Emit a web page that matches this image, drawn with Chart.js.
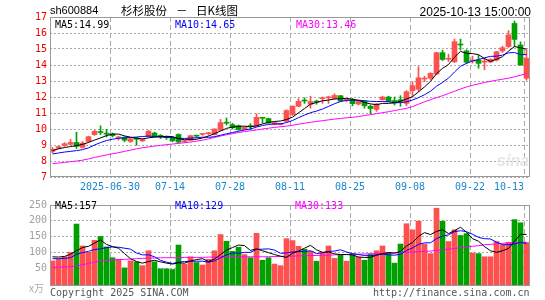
<!DOCTYPE html>
<html>
<head>
<meta charset="utf-8">
<script src="https://cdn.jsdelivr.net/npm/chart.js@4.4.0/dist/chart.umd.min.js"></script>
<style>
  body { margin: 0; background: #fff; width: 545px; height: 300px; position: relative; overflow: hidden;
         font-family: "DejaVu Sans Mono", monospace; font-size: 10px; }
  canvas { position: absolute; left: 0; }
  #kline { top: 0; }
  #vol { top: 196px; }
  .t { position: absolute; white-space: pre; line-height: 12px; }
</style>
</head>
<body>
<canvas id="kline" width="545" height="196"></canvas>
<canvas id="vol" width="545" height="104"></canvas>

<div class="t" style="left:50px;top:4px;font:11px 'Liberation Sans';color:#000">sh600884</div>
<div class="t" style="left:121px;top:2px;font:11.5px 'Noto Sans CJK SC';line-height:16px;color:#000">杉杉股份</div>
<div class="t" style="left:176px;top:2px;font:11.5px 'Noto Sans CJK SC';line-height:16px;color:#000">－</div>
<div class="t" style="left:196px;top:2px;font:11.5px 'Noto Sans CJK SC';line-height:16px;color:#000">日K线图</div>
<div class="t" style="right:14px;top:5px;font:12px 'Liberation Sans';color:#000">2025-10-13 15:00:00</div>

<div class="t" style="left:55px;top:19px;color:#000">MA5:14.99</div>
<div class="t" style="left:175px;top:19px;color:#00f">MA10:14.65</div>
<div class="t" style="left:296px;top:19px;color:#f0f">MA30:13.46</div>

<div class="t" style="left:55px;top:200px;color:#000">MA5:157</div>
<div class="t" style="left:175px;top:200px;color:#00f">MA10:129</div>
<div class="t" style="left:295px;top:200px;color:#f0f">MA30:133</div>

<div class="t" style="left:497px;top:152px;font:italic bold 16px 'Liberation Sans';color:#e6e6e6">sina</div>
<div class="t" style="left:29px;top:280px;font:10px 'Noto Sans CJK SC';color:#aaa">x万</div>
<div class="t" style="left:50px;top:287px;color:#555">Copyright 2025 SINA.COM</div>
<div class="t" style="left:373px;top:287px;color:#555">http://finance.sina.com.cn</div>

<script>
// trading days, 2025
const days = [
  '06-16','06-17','06-18','06-19','06-20','06-23','06-24','06-25','06-26','06-27',
  '06-30','07-01','07-02','07-03','07-04','07-07','07-08','07-09','07-10','07-11',
  '07-14','07-15','07-16','07-17','07-18','07-21','07-22','07-23','07-24','07-25',
  '07-28','07-29','07-30','07-31','08-01','08-04','08-05','08-06','08-07','08-08',
  '08-11','08-12','08-13','08-14','08-15','08-18','08-19','08-20','08-21','08-22',
  '08-25','08-26','08-27','08-28','08-29','09-01','09-02','09-03','09-04','09-05',
  '09-08','09-09','09-10','09-11','09-12','09-15','09-16','09-17','09-18','09-19',
  '09-22','09-23','09-24','09-25','09-26','09-29','09-30','10-09','10-10','10-13'
];
const tickDays = ['06-30','07-14','07-28','08-11','08-25','09-08','09-22','10-13'];
const tickLabels = ['2025-06-30','07-14','07-28','08-11','08-25','09-08','09-22','10-13'];
const priceTicks = [7, 8, 9, 10, 11, 12, 13, 14, 15, 16, 17];
const volTicks = [50, 100, 150, 200, 250];

const open = [
  8.6, 8.8, 8.98, 9.04, 9.16, 8.85, 9.22, 9.65, 9.82, 9.74,
  9.7, 9.44, 9.48, 9.22, 9.44, 9.26, 9.52, 9.75, 9.56, 9.5,
  9.44, 9.66, 9.2, 9.29, 9.57, 9.66, 9.71, 9.65, 9.92, 10.39,
  10.27, 10.21, 9.98, 10.18, 10.17, 10.69, 10.65, 10.28, 10.28, 10.48,
  10.9, 11.42, 11.8, 11.55, 11.72, 11.9, 11.95, 11.92, 12.08, 11.8,
  11.83, 11.56, 11.73, 11.42, 11.22, 11.83, 12.0, 11.78, 11.83, 11.6,
  12.4, 12.48, 13.12, 13.17, 13.44, 14.77, 14.36, 14.2, 15.3, 14.88,
  14.25, 14.31, 14.18, 14.19, 14.31, 14.88, 15.15, 16.6, 15.25, 13.17
];
const close = [
  8.74, 8.9, 9.08, 9.16, 8.92, 9.12, 9.52, 9.85, 9.78, 9.68,
  9.58, 9.5, 9.3, 9.38, 9.36, 9.34, 9.86, 9.52, 9.54, 9.46,
  9.26, 9.18, 9.24, 9.58, 9.55, 9.68, 9.74, 10.0, 10.4, 10.36,
  10.08, 9.96, 10.1, 10.15, 10.73, 10.67, 10.38, 10.4, 10.33, 11.15,
  11.42, 11.73, 11.75, 11.72, 11.68, 11.93, 11.98, 12.1, 11.75, 11.84,
  11.58, 11.72, 11.45, 11.28, 11.56, 12.0, 11.72, 11.62, 11.73, 12.33,
  12.71, 13.2, 13.16, 13.48, 14.77, 14.35, 14.4, 15.46, 15.25, 14.17,
  14.28, 14.1, 14.22, 14.35, 14.83, 15.08, 15.88, 15.6, 14.0, 14.42
];
const high = [
  8.85, 8.95, 9.15, 9.35, 9.8, 9.22, 9.55, 9.92, 10.2, 9.98,
  9.75, 9.55, 9.52, 9.42, 9.48, 9.38, 9.92, 9.8, 9.65, 9.56,
  9.5, 9.7, 9.3, 9.62, 9.62, 9.72, 9.8, 10.02, 10.6, 10.69,
  10.35, 10.25, 10.14, 10.33, 10.95, 10.72, 10.68, 10.45, 10.36, 11.2,
  11.45, 11.9, 11.95, 12.05, 11.8, 12.0, 12.05, 12.2, 12.1, 11.88,
  11.92, 11.8, 11.76, 11.5, 11.6, 12.05, 12.05, 12.0, 12.08, 12.4,
  12.95, 13.9, 13.3, 13.52, 14.8, 14.92, 14.68, 15.62, 15.62, 14.95,
  14.55, 14.6, 14.42, 14.4, 14.85, 15.18, 16.15, 16.75, 15.45, 14.95
];
const low = [
  8.5, 8.76, 8.9, 9.0, 8.78, 8.8, 9.18, 9.6, 9.65, 9.5,
  9.5, 9.3, 9.2, 9.15, 8.98, 9.2, 9.5, 9.5, 9.4, 9.35,
  9.2, 9.12, 9.15, 9.25, 9.48, 9.6, 9.62, 9.62, 9.9, 10.25,
  10.0, 9.92, 9.95, 9.98, 10.15, 10.38, 10.35, 10.25, 10.25, 10.45,
  10.85, 11.4, 11.6, 11.3, 11.55, 11.6, 11.6, 11.85, 11.7, 11.7,
  11.45, 11.5, 11.3, 10.95, 11.1, 11.8, 11.7, 11.5, 11.42, 11.45,
  12.0, 12.35, 12.95, 13.1, 13.4, 14.28, 14.22, 14.15, 14.94, 14.1,
  14.12, 13.8, 13.7, 14.15, 14.25, 14.78, 15.1, 15.15, 13.98, 13.05
];
const ma5 = [
  8.65, 8.76, 8.84, 8.9, 8.96, 9.04, 9.16, 9.31, 9.44, 9.59,
  9.68, 9.68, 9.57, 9.49, 9.42, 9.38, 9.45, 9.49, 9.52, 9.54,
  9.53, 9.39, 9.33, 9.34, 9.36, 9.44, 9.56, 9.71, 9.87, 10.04,
  10.12, 10.16, 10.18, 10.13, 10.2, 10.32, 10.41, 10.47, 10.5, 10.59,
  10.74, 11.01, 11.28, 11.55, 11.66, 11.76, 11.81, 11.88, 11.89, 11.92,
  11.85, 11.79, 11.66, 11.57, 11.52, 11.6, 11.6, 11.64, 11.73, 11.88,
  12.02, 12.32, 12.63, 12.98, 13.46, 13.79, 14.03, 14.49, 14.85, 14.73,
  14.71, 14.65, 14.4, 14.22, 14.36, 14.52, 14.87, 15.15, 15.08, 14.99
];
const ma10 = [
  8.44, 8.5, 8.56, 8.6, 8.65, 8.71, 8.82, 9.0, 9.15, 9.28,
  9.36, 9.42, 9.44, 9.47, 9.5, 9.53, 9.56, 9.53, 9.5, 9.48,
  9.46, 9.42, 9.41, 9.43, 9.45, 9.49, 9.48, 9.52, 9.61, 9.7,
  9.78, 9.86, 9.94, 10.0, 10.12, 10.22, 10.28, 10.32, 10.32, 10.4,
  10.53, 10.71, 10.87, 11.02, 11.12, 11.25, 11.41, 11.58, 11.72, 11.79,
  11.8, 11.8, 11.77, 11.73, 11.72, 11.72, 11.7, 11.65, 11.65, 11.7,
  11.81, 11.96, 12.14, 12.36, 12.67, 12.91, 13.18, 13.56, 13.92, 14.1,
  14.25, 14.34, 14.45, 14.54, 14.55, 14.62, 14.76, 14.78, 14.65, 14.65
];
const ma30 = [
  7.83, 7.87, 7.91, 7.96, 8.0, 8.05, 8.13, 8.22, 8.3, 8.38,
  8.45, 8.52, 8.6, 8.68, 8.76, 8.83, 8.88, 8.93, 8.98, 9.02,
  9.06, 9.1, 9.14, 9.18, 9.24, 9.3, 9.38, 9.47, 9.56, 9.64,
  9.71, 9.78, 9.84, 9.89, 9.94, 10.0, 10.05, 10.1, 10.14, 10.18,
  10.23, 10.3, 10.36, 10.42, 10.47, 10.52, 10.57, 10.62, 10.66, 10.7,
  10.73, 10.78, 10.84, 10.9, 10.96, 11.02, 11.08, 11.15, 11.22, 11.29,
  11.4, 11.55, 11.7, 11.83, 11.96, 12.08, 12.22, 12.36, 12.5, 12.63,
  12.73, 12.82, 12.91, 12.98, 13.05, 13.11, 13.18, 13.26, 13.36, 13.46
];
// volume, 万手
const volume = [
  74, 79, 87, 101, 190, 121, 101, 139, 151, 118,
  84, 79, 52, 74, 71, 59, 106, 71, 49, 49,
  47, 124, 64, 87, 69, 61, 79, 106, 157, 136,
  104, 117, 94, 84, 161, 76, 84, 64, 59, 144,
  138, 120, 111, 104, 73, 99, 121, 82, 94, 73,
  96, 86, 76, 96, 106, 121, 101, 67, 127, 191,
  172, 199, 127, 97, 240, 199, 135, 172, 154, 160,
  99, 97, 87, 87, 135, 124, 132, 204, 194, 132
];
const volMa5 = [
  87, 86, 88, 95, 106, 116, 120, 130, 140, 126,
  119, 114, 97, 81, 72, 67, 72, 76, 71, 67,
  64, 68, 67, 74, 78, 81, 72, 80, 94, 108,
  116, 124, 122, 107, 112, 106, 100, 94, 89, 85,
  98, 105, 114, 123, 109, 101, 102, 96, 94, 94,
  93, 86, 85, 85, 92, 97, 100, 98, 104, 121,
  132, 151, 163, 157, 167, 172, 160, 169, 180, 164,
  144, 136, 119, 106, 101, 106, 113, 136, 158, 157
];
const volMa10 = [
  81, 81, 82, 84, 95, 100, 104, 110, 112, 116,
  118, 117, 114, 111, 99, 93, 93, 87, 76, 70,
  66, 70, 72, 73, 73, 73, 70, 74, 84, 93,
  99, 98, 101, 101, 110, 111, 112, 108, 98, 99,
  102, 103, 104, 106, 97, 100, 104, 105, 109, 102,
  97, 94, 91, 90, 93, 95, 93, 92, 95, 107,
  115, 126, 131, 131, 144, 152, 156, 166, 169, 166,
  158, 148, 144, 143, 133, 125, 125, 128, 132, 129
];
const volMa30 = [
  54, 54, 55, 56, 58, 62, 66, 70, 74, 76,
  77, 78, 79, 80, 81, 82, 83, 83, 84, 84,
  84, 84, 85, 85, 85, 85, 86, 86, 86, 86,
  87, 87, 87, 87, 87, 87, 87, 88, 88, 89,
  89, 90, 90, 91, 91, 92, 92, 93, 94, 94,
  95, 95, 96, 96, 97, 98, 99, 100, 100, 101,
  102, 103, 104, 105, 107, 109, 111, 113, 116, 118,
  120, 122, 125, 126, 128, 129, 131, 132, 132, 133
];

const UP = '#ff5050';
const DOWN = '#00a000';
const MONO = 'DejaVu Sans Mono';
const SHIFT = 5 / 12;   // candle sits right of its day's grid line

// tick 0 is an unlabeled anchor so 'inner' alignment right-aligns only the last date
const tickIdx = [0, ...tickDays.map(d => days.indexOf(d))];
const candleColors = close.map((c, i) => c >= open[i] ? UP : DOWN);
const pt = arr => arr.map((v, i) => ({ x: i + SHIFT, y: v }));

// grey frame around the plot area
const boxPlugin = {
  id: 'box',
  afterDraw(chart) {
    const { ctx, chartArea: a } = chart;
    ctx.save();
    ctx.strokeStyle = '#999';
    ctx.lineWidth = 1;
    ctx.strokeRect(a.left + 0.5, a.top + 0.5, a.right - a.left - 1, a.bottom - a.top - 1);
    ctx.restore();
  }
};

function lineSet(data, color) {
  return {
    type: 'line', data: pt(data), borderColor: color, borderWidth: 1,
    pointRadius: 0, tension: 0, order: 0
  };
}

function xAxis(showLabels) {
  return {
    type: 'linear', min: 0, max: days.length, offset: false,
    afterBuildTicks: s => { s.ticks = tickIdx.map(v => ({ value: v })); },
    ticks: {
      display: showLabels, autoSkip: false, maxRotation: 0, padding: 4, align: 'inner',
      color: '#1a86d0', font: { family: MONO, size: 10 },
      callback: v => v === 0 ? '' : tickLabels[tickIdx.indexOf(v) - 1]
    },
    grid: { color: '#aaa', drawTicks: false, offset: false },
    border: { display: false, dash: [5, 3] },
    afterFit: s => { s.height = showLabels ? 19 : 0; }
  };
}

Chart.defaults.font.family = MONO;

new Chart(document.getElementById('kline'), {
  type: 'bar',
  data: {
    datasets: [
      lineSet(ma5, '#000'),
      lineSet(ma10, '#00f'),
      lineSet(ma30, '#f0f'),
      {
        data: open.map((o, i) => ({ x: i + SHIFT, y: [o, close[i]] })),
        backgroundColor: candleColors, barThickness: 5, minBarLength: 1,
        grouped: false, order: 1
      },
      {
        data: low.map((l, i) => ({ x: i + SHIFT, y: [l, high[i]] })),
        backgroundColor: candleColors, barThickness: 1,
        grouped: false, order: 2
      }
    ]
  },
  options: {
    responsive: false, animation: false,
    layout: { padding: { top: 17, right: 15, left: 0, bottom: 0 } },
    plugins: { legend: { display: false }, tooltip: { enabled: false } },
    scales: {
      x: xAxis(true),
      y: {
        min: priceTicks[0], max: priceTicks[priceTicks.length - 1],
        afterBuildTicks: s => { s.ticks = priceTicks.map(v => ({ value: v })); },
        ticks: { color: '#e00', padding: 3, font: { family: MONO, size: 10 } },
        grid: { color: '#aaa', drawTicks: false },
        border: { display: false, dash: [2, 2] },
        afterFit: s => { s.width = 50; }
      }
    }
  },
  plugins: [boxPlugin]
});

new Chart(document.getElementById('vol'), {
  type: 'bar',
  data: {
    datasets: [
      lineSet(volMa5, '#000'),
      lineSet(volMa10, '#00f'),
      lineSet(volMa30, '#f0f'),
      {
        data: volume.map((v, i) => ({ x: i + SHIFT, y: v })),
        backgroundColor: candleColors, barThickness: 5, base: -5,
        grouped: false, order: 1
      }
    ]
  },
  options: {
    responsive: false, animation: false,
    layout: { padding: { top: 5, right: 15, left: 0, bottom: 14 } },
    plugins: { legend: { display: false }, tooltip: { enabled: false } },
    scales: {
      x: xAxis(false),
      y: {
        min: -5, max: volTicks[volTicks.length - 1],
        afterBuildTicks: s => { s.ticks = volTicks.map(v => ({ value: v })); },
        ticks: { color: '#a0a0a0', padding: 3, font: { family: MONO, size: 10 } },
        grid: { color: '#aaa', drawTicks: false },
        border: { display: false, dash: [2, 2] },
        afterFit: s => { s.width = 50; }
      }
    }
  },
  plugins: [boxPlugin]
});
</script>
</body>
</html>
